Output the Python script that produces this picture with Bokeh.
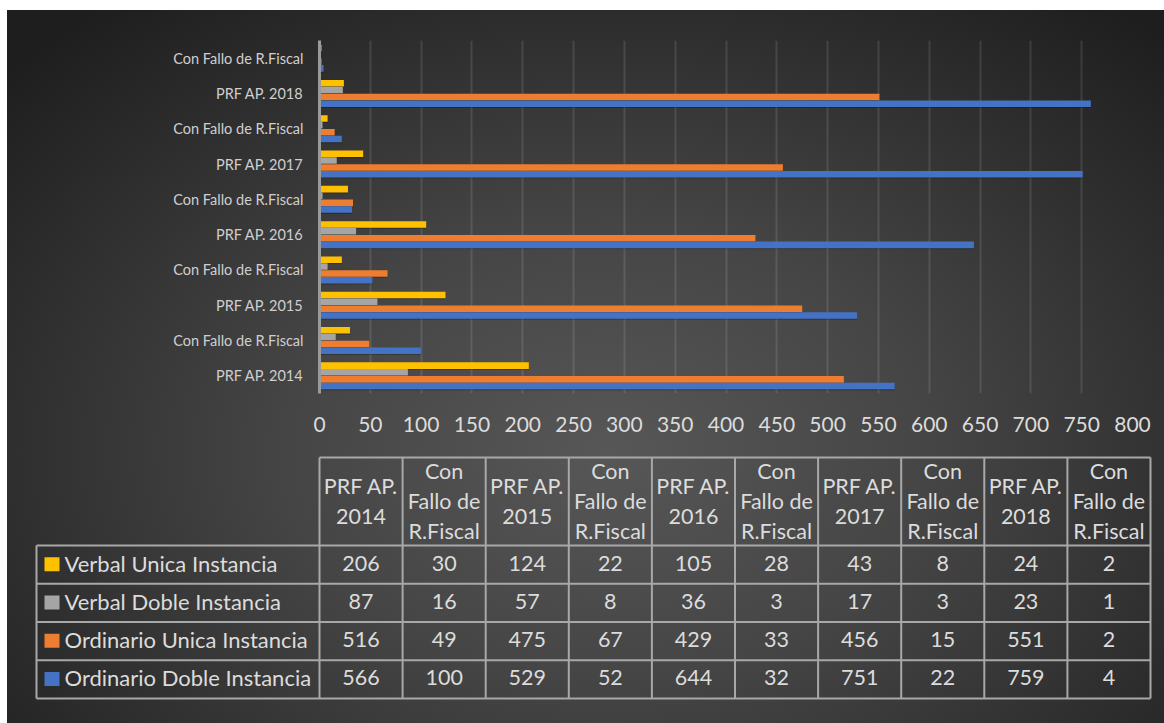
from bokeh.plotting import figure
from bokeh.layouts import column
from bokeh.models import ColumnDataSource, Range1d, FixedTicker, SingleIntervalTicker
from bokeh.transform import dodge
from bokeh.core.properties import value
from bokeh.embed import file_html
from bokeh.resources import INLINE

# ---------------- data ----------------
categories = ["PRF AP. 2014", "Con Fallo de R.Fiscal", "PRF AP. 2015", "Con Fallo de R.Fiscal",
              "PRF AP. 2016", "Con Fallo de R.Fiscal", "PRF AP. 2017", "Con Fallo de R.Fiscal",
              "PRF AP. 2018", "Con Fallo de R.Fiscal"]
header_labels = ["PRF AP.\n2014", "Con\nFallo de\nR.Fiscal", "PRF AP.\n2015", "Con\nFallo de\nR.Fiscal",
                 "PRF AP.\n2016", "Con\nFallo de\nR.Fiscal", "PRF AP.\n2017", "Con\nFallo de\nR.Fiscal",
                 "PRF AP.\n2018", "Con\nFallo de\nR.Fiscal"]
verbal_unica = [206, 30, 124, 22, 105, 28, 43, 8, 24, 2]
verbal_doble = [87, 16, 57, 8, 36, 3, 17, 3, 23, 1]
ordinario_unica = [516, 49, 475, 67, 429, 33, 456, 15, 551, 2]
ordinario_doble = [566, 100, 529, 52, 644, 32, 751, 22, 759, 4]
series_names = ["Verbal Unica Instancia", "Verbal Doble Instancia",
                "Ordinario Unica Instancia", "Ordinario Doble Instancia"]
series_values = [verbal_unica, verbal_doble, ordinario_unica, ordinario_doble]
series_colors = ["#FFC000", "#A5A5A5", "#ED7D31", "#4472C4"]
x_ticks_interval = 50

FONT = "Lato"
TXT = "#dcdcdc"

# ---------------- bar chart ----------------
ypos = list(range(len(categories)))
src = ColumnDataSource(dict(y=ypos, vu=verbal_unica, vd=verbal_doble, ou=ordinario_unica, od=ordinario_doble))

p1 = figure(width=1157, height=435, x_range=Range1d(0, 800), y_range=Range1d(-0.5, 9.5),
            output_backend="svg", toolbar_location=None,
            min_border_left=312, min_border_right=32, min_border_top=30, min_border_bottom=52)
p1.background_fill_alpha = 0
p1.border_fill_alpha = 0
p1.outline_line_color = None
p1.frame_align = False

offsets = [0.29, 0.1, -0.1, -0.29]   # yellow top ... blue bottom
fields = ["vu", "vd", "ou", "od"]
bh = 0.185
for f, off in zip(fields, offsets):
    p1.hbar(y=dodge("y", off - 0.03), right=f, left=0, height=bh, source=src,
            fill_color="black", fill_alpha=0.25, line_color=None)
for f, off, col in zip(fields, offsets, series_colors):
    p1.hbar(y=dodge("y", off), right=f, left=0, height=bh, source=src,
            fill_color=col, line_color=None)

p1.yaxis.ticker = FixedTicker(ticks=ypos)
p1.yaxis.major_label_overrides = {i: c for i, c in zip(ypos, categories)}
p1.yaxis.major_tick_line_color = None
p1.yaxis.minor_tick_line_color = None
p1.yaxis.axis_line_color = "#9a9a9a"
p1.yaxis.axis_line_width = 3
p1.yaxis.major_label_text_color = "#cfcfcf"
p1.yaxis.major_label_text_font = FONT
p1.yaxis.major_label_text_font_size = "14.5px"
p1.yaxis.major_label_standoff = 10

p1.xaxis.ticker = SingleIntervalTicker(interval=x_ticks_interval, num_minor_ticks=0)
p1.xaxis.axis_line_color = None
p1.xaxis.major_tick_line_color = None
p1.xaxis.minor_tick_line_color = None
p1.xaxis.major_label_text_color = TXT
p1.xaxis.major_label_text_font = FONT
p1.xaxis.major_label_text_font_size = "21px"
p1.xaxis.major_label_standoff = 17

p1.xgrid.ticker = SingleIntervalTicker(interval=x_ticks_interval, num_minor_ticks=0)
p1.xgrid.grid_line_color = "#ffffff"
p1.xgrid.grid_line_alpha = 0.11
p1.xgrid.grid_line_width = 2
p1.ygrid.visible = False

# ---------------- data table ----------------
p2 = figure(width=1157, height=278, x_range=Range1d(7, 1164), y_range=Range1d(723, 445),
            output_backend="svg", toolbar_location=None, x_axis_type=None, y_axis_type=None,
            min_border_left=0, min_border_right=0, min_border_top=0, min_border_bottom=0)
p2.background_fill_alpha = 0
p2.border_fill_alpha = 0
p2.outline_line_color = None
p2.grid.visible = False
p2.frame_align = False

ncol = len(header_labels)
col_left, table_right = 319.0, 1150.0
col_w = (table_right - col_left) / ncol
head_top, row_top, row_h, leg_left = 457.0, 545.0, 38.25, 36.0
nrow = len(series_names)
table_bottom = row_top + nrow * row_h

xs0, xs1, ys0, ys1 = [], [], [], []
xs0.append(col_left); xs1.append(table_right); ys0.append(head_top); ys1.append(head_top)
for r in range(nrow + 1):
    yy = row_top + r * row_h
    xs0.append(leg_left); xs1.append(table_right); ys0.append(yy); ys1.append(yy)
for k in range(ncol + 1):
    xx = col_left + k * col_w
    xs0.append(xx); xs1.append(xx); ys0.append(head_top); ys1.append(table_bottom)
xs0.append(leg_left); xs1.append(leg_left); ys0.append(row_top); ys1.append(table_bottom)
p2.segment(x0=xs0, y0=ys0, x1=xs1, y1=ys1, line_color="#a8a8a8", line_width=2)

centers = [col_left + (k + 0.5) * col_w for k in range(ncol)]
p2.text(x=centers, y=[(head_top + row_top) / 2 - 0.5] * ncol, text=header_labels,
        text_align="center", text_baseline="middle", text_color=TXT,
        text_font=value(FONT), text_font_size="21.5px", text_line_height=1.16)

for r, (name, vals, col) in enumerate(zip(series_names, series_values, series_colors)):
    yc = row_top + (r + 0.5) * row_h - 1.5
    p2.text(x=centers, y=[yc] * ncol, text=[str(v) for v in vals],
            text_align="center", text_baseline="middle", text_color=TXT,
            text_font=value(FONT), text_font_size="21.5px")
    p2.rect(x=[51.5], y=[yc + 1], width=15, height=14, fill_color=col, line_color=None)
    p2.text(x=[64], y=[yc], text=[name], text_align="left", text_baseline="middle",
            text_color=TXT, text_font=value(FONT), text_font_size="22px")

layout = column(p1, p2, spacing=0, styles={
    "margin-left": "7px", "margin-top": "10px",
    "background": "radial-gradient(ellipse 70% 80% at 52% 62%, #575757 0%, #454545 40%, #2e2e2e 75%, #1e1e1e 100%)",
})

open("out.html", "w").write(file_html(layout, INLINE))
